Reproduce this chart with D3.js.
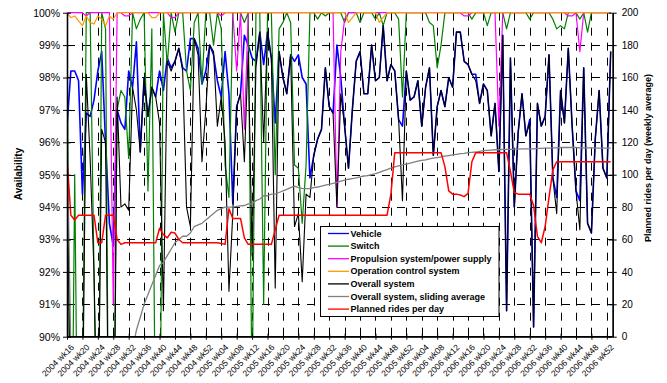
<!DOCTYPE html>
<html><head><meta charset="utf-8">
<script src="https://cdn.jsdelivr.net/npm/d3@7"></script>
<style>body{margin:0;background:#fff} text{font-family:Arial,"Liberation Sans",sans-serif}</style>
</head><body><svg id="c" width="667" height="383"></svg>
<script>
const tickLabels = ["2004 wk16","2004 wk20","2004 wk24","2004 wk28","2004 wk32","2004 wk36","2004 wk40","2004 wk44","2004 wk48","2004 wk52","2005 wk04","2005 wk08","2005 wk12","2005 wk16","2005 wk20","2005 wk24","2005 wk28","2005 wk32","2005 wk36","2005 wk40","2005 wk44","2005 wk48","2005 wk52","2006 wk04","2006 wk08","2006 wk12","2006 wk16","2006 wk20","2006 wk24","2006 wk28","2006 wk32","2006 wk36","2006 wk40","2006 wk44","2006 wk48","2006 wk52"];

const vehicle = [96.5,98.2,98.2,97.9,94.4,96.9,96.8,97.3,98.2,98.8,
 96.0,93.5,92.8,97.0,96.6,96.4,98.2,97.7,99.1,95.7,
 98.0,96.8,97.7,97.4,98.2,97.6,98.6,98.3,98.5,98.9,
 98.3,98.2,99.2,99.2,98.9,97.8,98.2,99.0,98.7,97.9,
 97.4,98.8,97.5,94.1,97.1,97.5,99.3,99.0,98.6,98.5,
 99.4,98.4,99.4,98.6,96.6,98.8,98.0,97.5,98.7,98.5,
 98.7,98.0,97.8,94.9,95.6,96.1,96.4,98.3,97.1,96.9,
 99.0,98.0,96.5,95.2,97.0,98.5,98.8,97.5,97.5,99.0,
 97.9,98.0,99.6,97.9,98.4,98.2,96.7,96.5,98.2,97.3,
 97.4,97.9,96.5,97.7,98.3,95.6,97.1,97.6,97.1,98.0,
 97.7,99.4,99.4,98.5,98.4,98.1,98.1,97.2,97.8,97.6,
 96.2,97.2,95.1,99.3,90.8,98.6,94.0,96.3,97.5,96.2,
 96.7,90.3,97.2,96.5,96.8,98.7,94.9,94.3,97.6,96.6,
 98.9,96.5,94.5,94.2,98.3,93.5,93.2,96.1,97.6,95.2,
 94.9,98.8];

const switchAv = [100,82,95,83,88,100,100,92,84,100,
 99.5,83,86,97.0,97.6,97.4,95.5,100,99.5,99.8,
 100,94.5,99.5,86,85,100,98.4,100,99.4,100,
 100,98.2,97.6,99.7,100,97.8,100,100,99.0,100,
 99.5,95.3,94.3,100,100,100,99.7,100,88,100,
 100,91,100,100,95,99.5,99.7,100,99.7,95.3,
 95.2,93.5,95.3,100,100,99.8,100,99.9,100,100,
 100,100,99.7,100,100,100,99.7,100,100,100,
 99.8,100,99.6,100,100,100,99.8,97.4,100,100,
 100,100,100,100,99.7,99.6,98.3,99.0,100,100,
 100,100,100,100,100,99.8,100,100,100,99.6,
 100,100,100,100,99.5,100,100,100,100,100,
 99.8,100,100,100,100,100,99.8,99.5,99.6,99.5,
 100,100,100,99.8,100,99.4,100,100,100,100,
 100,100];

const propulsion = [100,100,100,100,100,99.9,100,100,100,100,
 100,100,91.0,100,100,99.9,99.9,100,100,100,
 100,100,100,100,100,100,100,99.85,99.85,100,
 100,100,100,100,100,100,100,100,100,100,
 99.9,100,100,100,98.2,100,96.4,100,100,100,
 100,100,100,100,100,100,100,100,100,100,
 100,100,100,100,100,100,100,100,100,100,
 94.0,98.8,99.8,100,100,100,100,100,100,100,
 100,100,100,100,100,100,100,100,100,100,
 100,100,100,100,100,100,100,100,100,100,
 100,100,100,99.9,99.9,100,100,100,100,100,
 100,100,96.5,100,100,100,100,100,100,100,
 100,100,100,100,100,100,100,100,100,100,
 99.9,99.9,100,98.8,100,100,100,100,100,100,
 100,100];

const opControl = [100,99.85,99.9,99.75,99.6,99.9,99.7,99.65,99.9,99.8,
 99.6,99.9,99.8,100,100,100,100,100,100,100,
 100,100,99.85,99.85,100,100,100,100,100,100,
 100,100,100,100,100,100,100,100,100,100,
 100,100,100,100,100,100,100,100,100,100,
 100,100,100,100,100,100,100,100,100,100,
 100,100,100,100,100,100,100,100,100,100,
 100,100,100,99.7,99.85,100,100,100,100,100,
 100,99.7,99.85,100,100,100,100,100,100,100,
 100,100,100,100,100,100,100,100,100,100,
 100,100,100,100,100,100,100,100,100,100,
 100,100,100,100,100,100,100,100,100,100,
 100,100,100,100,100,100,100,100,100,100,
 100,100,100,100,100,100,100,100,100,100,
 100,100];

const overall = [96.5,86,88,85,87,98.1,95.5,92.0,86,96.4,
 96.0,84,83,97.4,94.0,94.1,93.9,97.7,97.0,95.7,
 98.0,96.8,97.7,97.4,96.6,90.8,98.5,98.2,98.5,98.9,
 98.2,94.0,93.4,99.2,98.7,95.4,97.0,99.0,98.8,96.5,
 97.4,96.0,91.4,93.8,97.1,97.5,95.4,98.8,92.5,98.3,
 99.4,96.0,99.4,98.6,91.5,98.8,98.0,97.5,98.7,93.4,
 93.8,91.7,94.4,94.3,95.6,96.1,96.4,98.3,97.1,96.9,
 94.0,97.5,96.5,95.2,97.0,98.5,98.8,97.5,97.5,99.0,
 97.9,98.0,99.6,97.9,98.4,98.2,96.7,94.2,98.2,97.3,
 97.4,97.9,96.5,97.7,98.3,95.6,97.1,97.6,97.1,98.0,
 97.7,99.4,99.4,98.5,98.4,98.1,97.9,97.2,97.8,97.6,
 96.2,97.2,95.1,99.3,90.8,98.6,94.0,96.3,97.5,96.2,
 96.6,90.3,97.2,96.5,96.8,98.7,94.9,93.8,97.6,96.6,
 98.9,96.5,94.5,93.3,98.3,93.5,93.2,96.1,97.6,95.2,
 94.9,98.8];

const slidingAvg = [96.5,89.5,88.0,87.0,86.5,87.0,87.0,86.5,86.0,86.5,
 86.8,86.5,86.2,86.6,87.0,87.6,88.5,89.6,90.2,90.6,
 91.0,91.3,91.6,91.9,92.2,92.3,92.5,92.7,92.9,93.0,
 93.1,93.1,93.2,93.4,93.45,93.5,93.6,93.7,93.8,93.9,
 93.95,94.0,94.0,94.0,94.02,94.04,94.05,94.1,94.1,94.2,
 94.25,94.35,94.35,94.4,94.4,94.45,94.5,94.55,94.6,94.65,
 94.6,94.58,94.57,94.57,94.6,94.62,94.65,94.68,94.7,94.73,
 94.76,94.8,94.83,94.86,94.88,94.9,94.93,94.96,94.97,95.0,
 95.03,95.07,95.12,95.16,95.2,95.24,95.27,95.3,95.33,95.36,
 95.39,95.42,95.44,95.46,95.49,95.51,95.53,95.55,95.57,95.59,
 95.61,95.63,95.65,95.66,95.68,95.69,95.7,95.72,95.74,95.75,
 95.76,95.77,95.77,95.78,95.78,95.78,95.79,95.79,95.8,95.8,
 95.8,95.8,95.81,95.81,95.82,95.82,95.83,95.83,95.84,95.84,
 95.84,95.84,95.84,95.83,95.83,95.83,95.83,95.82,95.82,95.82,
 95.82,95.82];

const plannedRides = [110,75,72,75,75,75,75,75,58,58,
 75,75,75,60,57,58,58,58,58,58,
 58,58,58,58,67,63,61,64.5,64,60,
 58,58,58,58,58,58,58,58,58,58,
 57.5,57,79,73,73,73,61,57,57,57,
 57,57,57,57,66,75,75,75,75,75,
 75,75,75,75,75,75,75,75,75,75,
 75,75,75,75,75,75,75,75,75,75,
 75,75,75,75,88,113.6,113.6,113.6,113.6,113.6,
 113.6,113.6,113.6,113.6,113.6,113.6,113.6,113.6,105,90,
 88,88,87.5,86.5,88.5,108,113.6,113.6,113.6,113.6,
 113.6,113.6,113.6,113.6,113.6,102,89,88,88,88,
 88,81,62,58,68,86,103,108,108,108,
 108,108,108,108,108,108,108,108,108,108,
 108,108];

const seriesNames = ["Vehicle","Switch","Propulsion system/power supply","Operation control system","Overall system","Overall system, sliding average","Planned rides per day"];
const seriesColors = ["#0000ff","#008000","#ff00ff","#ff9900","#000000","#808080","#ff0000"];

const svg = d3.select("#c");
const L = 67, R = 612.7, T = 12.7, B = 336.7;
const x = d3.scaleLinear().domain([0, 141]).range([L, 610.7]);
const y = d3.scaleLinear().domain([90, 100]).range([B, T]);
const y2 = d3.scaleLinear().domain([0, 200]).range([B, T]);

// grid
const grid = svg.append("g").attr("stroke", "#000").attr("stroke-width", 1).attr("stroke-dasharray", "8,7");
d3.range(91, 100).forEach(v => grid.append("line").attr("x1", L).attr("x2", R).attr("y1", Math.round(y(v)) + 0.5).attr("y2", Math.round(y(v)) + 0.5));
d3.range(4, 141, 4).forEach(i => grid.append("line").attr("x1", Math.round(x(i)) + 0.5).attr("x2", Math.round(x(i)) + 0.5).attr("y1", T).attr("y2", B));

// series
svg.append("defs").append("clipPath").attr("id", "clip").append("rect").attr("x", L).attr("y", T - 2).attr("width", R - L).attr("height", B - T + 2);
const plot = svg.append("g").attr("clip-path", "url(#clip)");
const lineL = d3.line().x((d, i) => x(i)).y(d => y(d));
const lineR = d3.line().x((d, i) => x(i)).y(d => y2(d));
const data = [vehicle, switchAv, propulsion, opControl, overall, slidingAvg];
const widths = [1.6, 1.2, 1.2, 1.2, 1.1, 1.3];
data.forEach((arr, k) => {
  plot.append("path").datum(arr).attr("d", lineL).attr("fill", "none")
    .attr("stroke", seriesColors[k]).attr("stroke-width", widths[k]).attr("stroke-linejoin", "round");
});
plot.append("path").datum(plannedRides).attr("d", lineR).attr("fill", "none")
  .attr("stroke", seriesColors[6]).attr("stroke-width", 1.5).attr("stroke-linejoin", "round");

// axes
const fontFam = 'Arial, "Liberation Sans", sans-serif';
const ax = svg.append("g").attr("transform", `translate(${L},0)`)
  .call(d3.axisLeft(y).tickValues(d3.range(90, 101)).tickFormat(d => d + "%").tickSizeInner(4).tickSizeOuter(0).tickPadding(3));
ax.append("g").call(d3.axisRight(y).tickValues(d3.range(90, 101)).tickFormat("").tickSizeInner(4).tickSizeOuter(0));
ax.selectAll("text").attr("font-size", "10.5px").attr("font-family", fontFam).attr("fill", "#000");

const ax2 = svg.append("g").attr("transform", `translate(${R},0)`)
  .call(d3.axisRight(y2).tickValues(d3.range(0, 201, 20)).tickSizeInner(4).tickSizeOuter(0).tickPadding(5));
ax2.append("g").call(d3.axisLeft(y2).tickValues(d3.range(0, 201, 20)).tickFormat("").tickSizeInner(4).tickSizeOuter(0));
ax2.selectAll("text").attr("font-size", "10px").attr("font-family", fontFam).attr("fill", "#000");

const axb = svg.append("g").attr("transform", `translate(0,${B})`)
  .call(d3.axisBottom(x).tickValues(d3.range(0, 141, 4)).tickFormat((d, i) => tickLabels[i]).tickSizeInner(3).tickSizeOuter(0));
axb.append("g").call(d3.axisTop(x).tickValues(d3.range(0, 141, 4)).tickFormat("").tickSizeInner(3).tickSizeOuter(0));
axb.select(".domain").attr("d", `M${L},0H${R}`);
axb.selectAll(".tick text").attr("font-size", "8.5px").attr("font-family", fontFam).attr("fill", "#000")
  .attr("text-anchor", "end").attr("x", 0).attr("y", 0).attr("dy", "0.35em")
  .attr("transform", "translate(5,9) rotate(-45)");
svg.selectAll(".domain").attr("stroke", "#000").attr("stroke-width", 1.3);
svg.selectAll(".tick line").attr("stroke", "#000");

// titles
svg.append("text").attr("transform", "translate(18,174) rotate(-90)").attr("text-anchor", "middle")
  .attr("dy", "0.35em").attr("font-size", "10px").attr("font-weight", "bold").text("Availability");
svg.append("text").attr("transform", "translate(648,158) rotate(-90)").attr("text-anchor", "middle")
  .attr("dy", "0.35em").attr("font-size", "9px").attr("font-weight", "bold").text("Planned rides per day (weekly average)");

// legend
const lg = svg.append("g").attr("transform", "translate(320.5,226.5)");
lg.append("rect").attr("width", 178.5).attr("height", 90).attr("fill", "#fff").attr("stroke", "#000").attr("stroke-width", 1);
seriesNames.forEach((n, k) => {
  const yy = 7 + k * 12.6;
  lg.append("line").attr("x1", 7.5).attr("x2", 28.5).attr("y1", yy).attr("y2", yy).attr("stroke", seriesColors[k]).attr("stroke-width", 1.3);
  lg.append("text").attr("x", 30).attr("y", yy).attr("dy", "0.35em").attr("font-size", "9px").attr("font-weight", "bold").text(n);
});
</script></body></html>
